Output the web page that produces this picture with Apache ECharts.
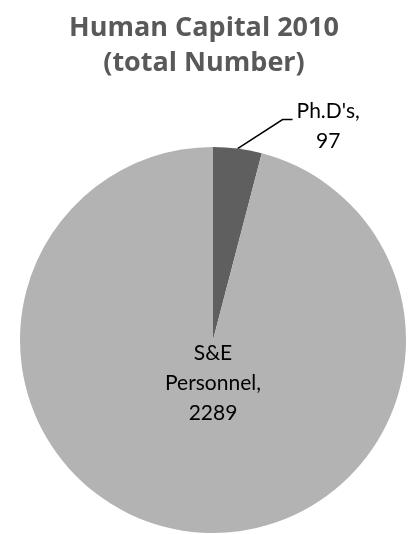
<!DOCTYPE html>
<html>
<head>
<meta charset="utf-8">
<script src="https://cdn.jsdelivr.net/npm/echarts@6/dist/echarts.min.js"></script>
<style>
  html, body { margin: 0; padding: 0; background: #ffffff; }
  #chart { width: 408px; height: 534px; }
</style>
</head>
<body>
<div id="chart"></div>
<script>
// Human capital headcount, 2010
const categories = ["Ph.D's", "S&E Personnel"];
const values = [97, 2289];
const sliceColors = ['#5f5f5f', '#b3b3b3'];

const chart = echarts.init(document.getElementById('chart'), null, { renderer: 'canvas' });

const titleFont = "'Open Sans', 'Liberation Sans', sans-serif";
const labelFont = "Lato, 'Open Sans', sans-serif";

chart.setOption({
  animation: false,
  backgroundColor: '#ffffff',
  title: {
    text: 'Human Capital 2010\n(total Number)',
    left: 'center',
    top: 6,
    textStyle: {
      fontFamily: titleFont,
      fontWeight: 'bold',
      fontSize: 27,
      lineHeight: 35,
      color: '#595959'
    }
  },
  series: [{
    type: 'pie',
    center: [213, 340],
    radius: 193,
    startAngle: 90,
    clockwise: true,
    silent: true,
    data: categories.map((name, i) => ({
      name: name,
      value: values[i],
      itemStyle: { color: sliceColors[i] },
      label: i === 0
        ? { show: true, position: 'outside' }
        : { show: true, position: 'center', offset: [0, 43] },
      labelLine: { show: i === 0 }
    })),
    label: {
      formatter: p => p.dataIndex === 0 ? p.name + ',\n' + p.value : 'S&E\nPersonnel,\n' + p.value,
      fontFamily: labelFont,
      fontSize: 21,
      lineHeight: 30,
      color: '#000000',
      align: 'center'
    },
    labelLine: {
      length: 30,
      length2: 10,
      lineStyle: { color: '#000000', width: 1.5 }
    },
    // Ph.D's label sits up and to the right of its slice, joined by a bent leader
    labelLayout: function (params) {
      if (params.dataIndex !== 0 || !params.labelLinePoints) return {};
      const p0 = params.labelLinePoints[0];
      const p1 = [p0[0] + 45, p0[1] - 29];
      const p2 = [p1[0] + 10, p1[1]];
      return {
        x: p2[0] + 4 + params.labelRect.width / 2,
        y: p1[1] - 8 - 15,
        align: 'center',
        verticalAlign: 'top',
        labelLinePoints: [p0, p1, p2]
      };
    }
  }]
});
</script>
</body>
</html>
